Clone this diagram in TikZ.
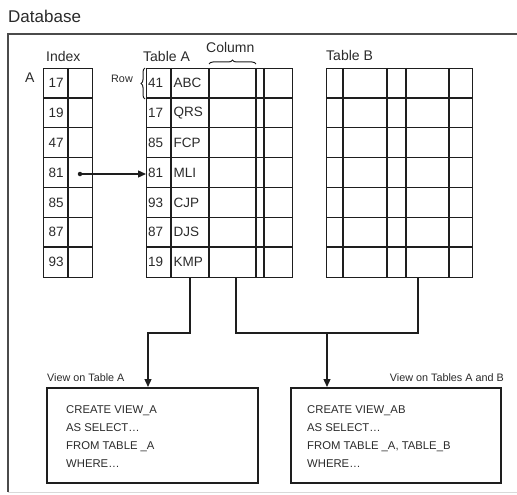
\documentclass[tikz,border=0pt]{standalone}
\usepackage{fontspec}
\setmainfont{Liberation Sans}
\usetikzlibrary{arrows.meta,decorations.pathreplacing}
\definecolor{ink}{HTML}{1E1E1E}
\definecolor{txt}{HTML}{2A2A2A}
\tikzset{
  grid/.style={draw=ink, line width=1.3pt},
  frame/.style={draw=ink!80, line width=1.6pt},
  vbox/.style={draw=ink, line width=1.5pt, rectangle, inner sep=0pt, anchor=north west},
  conn/.style={draw=ink, line width=1.3pt},
  arr/.style={conn, -{Triangle[length=8pt,width=7pt]}},
  lbl/.style={inner sep=0pt, text=txt, font=\fontsize{14}{16}\selectfont},
  small/.style={inner sep=0pt, text=txt, font=\fontsize{10.8}{13}\selectfont},
  cell/.style={inner sep=0pt, text=txt, anchor=west, font=\fontsize{13.5}{15}\selectfont},
  code/.style={inner sep=0pt, text=txt, anchor=north west, align=left, font=\fontsize{11.3}{18}\selectfont},
  brc/.style={draw=ink, line width=1pt, decorate, decoration={brace, amplitude=4pt}}
}
\begin{document}
\begin{tikzpicture}[x=1pt,y=-1pt]
\useasboundingbox (0,0) rectangle (517,495);
% outer frame
\draw[frame] (517,34) -- (8,34) -- (8,492);
\draw[draw=black!15, line width=1pt] (8,492) -- (517,492);
\node[lbl, anchor=base west, font=\fontsize{17}{19}\selectfont] (db) at (8,23) {Database};

% tables as named nodes
\node[grid, rectangle, inner sep=0pt, anchor=north west, minimum width=49pt, minimum height=209pt] (idx) at (43,68) {};
\node[grid, rectangle, inner sep=0pt, anchor=north west, minimum width=146pt, minimum height=209pt] (tA) at (146,68) {};
\node[grid, rectangle, inner sep=0pt, anchor=north west, minimum width=146pt, minimum height=209pt] (tB) at (326,68) {};

% inner grid lines
\draw[grid] (68,68) -- (68,277);
\foreach \x in {171,209,256,264} \draw[grid] (\x,68) -- (\x,277);
\foreach \x in {343,387,406,449} \draw[grid] (\x,68) -- (\x,277);
\foreach \i in {1,...,6} {
  \pgfmathsetmacro{\yy}{68+29.857*\i}
  \draw[grid] (43,\yy) -- (92,\yy);
  \draw[grid] (146,\yy) -- (292,\yy);
  \draw[grid] (326,\yy) -- (472,\yy);
}

% headings
\node[lbl, anchor=base west] (hidx) at (46,62) {Index};
\node[lbl, anchor=base west] (htA) at (143,62) {Table A};
\node[lbl, anchor=base west] (hcol) at (206,53) {Column};
\node[lbl, anchor=base west] (htB) at (326,61) {Table B};
\node[lbl, anchor=base west] (hA) at (25,82) {A};
\node[small, anchor=base west] (hrow) at (111,83) {Row};
\draw[brc] (209,64) -- (256,64);
\draw[brc] (145,99) -- (145,68);

% cell contents
\foreach \n [count=\i] in {17,19,47,81,85,87,93} {
  \pgfmathsetmacro{\yy}{68+29.857*(\i-0.5)}
  \node[cell] (ix\i) at (48.5,\yy) {\n};
}
\foreach \n/\s [count=\i] in {41/ABC,17/QRS,85/FCP,81/MLI,93/CJP,87/DJS,19/KMP} {
  \pgfmathsetmacro{\yy}{68+29.857*(\i-0.5)}
  \node[cell] (na\i) at (148,\yy) {\n};
  \node[cell] (sa\i) at (173.5,\yy) {\s};
}

% index pointer
\node[circle, fill=ink, inner sep=0pt, minimum size=4.5pt] (dot) at (80,174) {};
\draw[arr] (dot) -- (dot -| tA.west);

% views
\node[vbox, minimum width=211pt, minimum height=95pt] (vA) at (46,387) {};
\node[vbox, minimum width=210pt, minimum height=95pt] (vAB) at (290,387) {};
\node[small, anchor=base west] (lvA) at (47,381) {View on Table A};
\node[small, anchor=base east] (lvAB) at (504,381) {View on Tables A and B};
\node[code] (cA) at (66,405) {CREATE VIEW\_A\\AS SELECT\dots\\FROM TABLE \_A\\WHERE\dots};
\node[code] (cAB) at (307,405) {CREATE VIEW\_AB\\AS SELECT\dots\\FROM TABLE \_A, TABLE\_B\\WHERE\dots};

% connectors
\coordinate (xa) at (190,0);
\coordinate (xb) at (148,0);
\coordinate (xc) at (236,0);
\coordinate (xd) at (418,0);
\coordinate (xe) at (327,0);
\coordinate (lv) at (0,333);
\draw[arr] (tA.south -| xa) -- (lv -| xa) -- (lv -| xb) -- (vA.north -| xb);
\draw[conn] (tA.south -| xc) -- (lv -| xc) -- (lv -| xd) -- (tB.south -| xd);
\coordinate (j) at (lv -| xe);
\draw[arr] (j) -- (vAB.north -| j);
\end{tikzpicture}
\end{document}
